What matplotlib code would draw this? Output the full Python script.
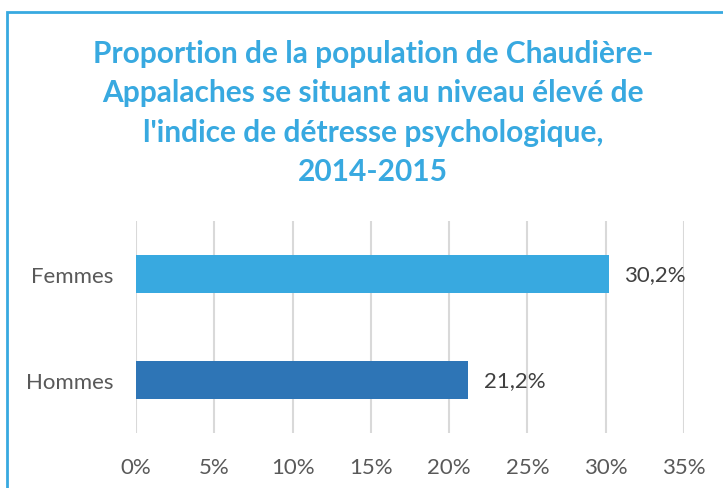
import matplotlib.pyplot as plt
from matplotlib.patches import Rectangle

categories = ["Hommes", "Femmes"]
values = [21.2, 30.2]
bar_colors = ["#2E75B6", "#38A9E0"]
xticks = [0, 5, 10, 15, 20, 25, 30, 35]
title = ("Proportion de la population de Chaudière-\n"
         "Appalaches se situant au niveau élevé de\n"
         "l'indice de détresse psychologique,\n"
         "2014-2015")

plt.rcParams['font.family'] = ['Lato', 'DejaVu Sans']

W, H = 723, 489
fig = plt.figure(figsize=(W / 100, H / 100), dpi=100)
ax = fig.add_axes([136 / W, 1 - 434 / H, (684 - 136) / W, (434 - 222) / H])

y = range(len(categories))
ax.barh(y, values, height=0.36, color=bar_colors, zorder=3)
for yi, v in zip(y, values):
    ax.text(v + 1.0, yi, f"{v:.1f}%".replace(".", ","), va="center", ha="left",
            fontsize=16, color="#404040")

ax.set_xlim(0, 35)
ax.set_ylim(-0.5, 1.5)
ax.set_yticks(list(y))
ax.set_yticklabels(categories, fontsize=16, color="#595959")
ax.set_xticks(xticks)
ax.set_xticklabels([f"{t}%" for t in xticks], fontsize=16, color="#595959")
ax.tick_params(axis="y", length=0, pad=16)
ax.tick_params(axis="x", length=0, pad=17)
ax.grid(axis="x", color="#D9D9D9", linewidth=1.5, zorder=0)
for s in ax.spines.values():
    s.set_visible(False)

fig.text(373 / W, 1 - 113 / H, title, ha="center", va="center", fontsize=21.5,
         fontweight="bold", color="#38A9E0", linespacing=1.49)

fig.patches.append(Rectangle((7 / W, -0.1), 1.2, 1.1 - 13 / H, transform=fig.transFigure,
                             fill=False, edgecolor="#38A9E0", linewidth=2))

fig.savefig("out.png", dpi=100)
